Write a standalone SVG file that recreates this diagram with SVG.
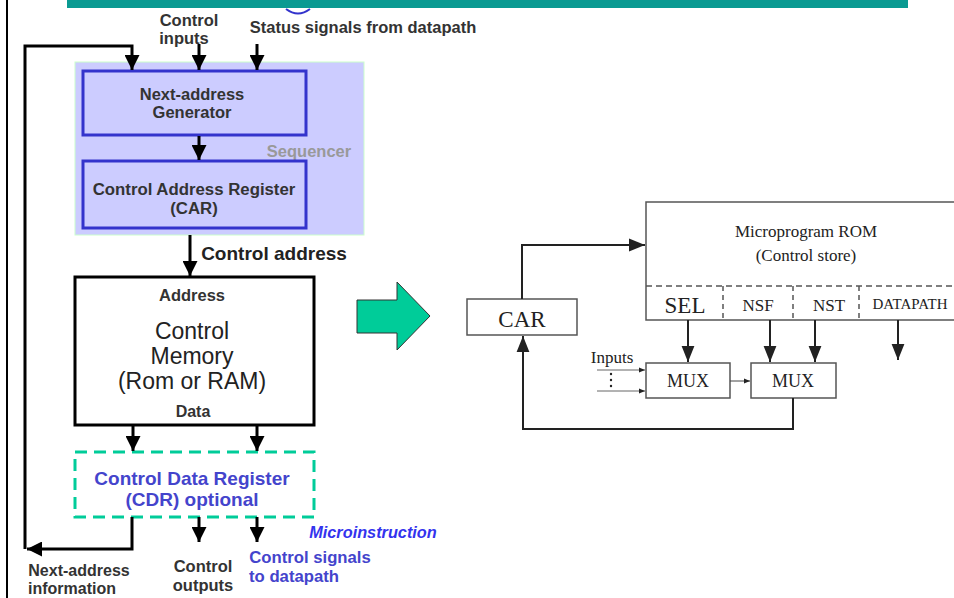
<svg xmlns="http://www.w3.org/2000/svg" width="954" height="598" viewBox="0 0 954 598">
<style>
.b{font-family:"Liberation Sans",Arial,sans-serif;font-weight:bold;fill:#333;text-anchor:middle}
.n{font-family:"Liberation Sans",Arial,sans-serif;fill:#222;text-anchor:middle;font-size:23px}
.t{font-family:"Liberation Serif","Times New Roman",serif;fill:#222;text-anchor:middle}
.w{stroke:#000;stroke-width:3;fill:none}
.r{stroke:#222;stroke-width:2;fill:none}
</style>
<defs>
<marker id="ah" viewBox="0 0 10 10" refX="10" refY="5" markerWidth="5" markerHeight="5" markerUnits="strokeWidth" orient="auto"><path d="M0,0L10,5L0,10z" fill="#000"/></marker>
<marker id="ar" viewBox="0 0 10 10" refX="10" refY="5" markerWidth="6" markerHeight="6" markerUnits="strokeWidth" orient="auto"><path d="M0,1L10,5L0,9z" fill="#222"/></marker>
<marker id="as" viewBox="0 0 10 10" refX="10" refY="5" markerWidth="10" markerHeight="8" markerUnits="strokeWidth" orient="auto"><path d="M0,1L10,5L0,9z" fill="#222"/></marker>
</defs>
<rect x="0" y="0" width="954" height="598" fill="#fff"/>
<rect x="67" y="0" width="841" height="8" fill="#0a9a92"/>
<line x1="7" y1="0" x2="7" y2="598" stroke="#000" stroke-width="2"/>
<path d="M286,9 Q298,18 310,9" stroke="#3333cc" stroke-width="2" fill="none"/>

<g id="sequencer">
<rect x="75" y="62" width="289" height="173" fill="#ccccff" stroke="#ccffcc" stroke-width="1"/>
<text class="b" x="309" y="157" font-size="16.5" style="fill:#999">Sequencer</text>
</g>
<g id="nag">
<rect x="83" y="71" width="223" height="64" fill="#ccccff" stroke="#3333cc" stroke-width="3"/>
<text class="b" x="192" y="100" font-size="16.5">Next-address</text>
<text class="b" x="192" y="118" font-size="16.5">Generator</text>
</g>
<g id="car">
<rect x="83" y="161" width="223" height="67" fill="#ccccff" stroke="#3333cc" stroke-width="3"/>
<text class="b" x="194" y="195" font-size="16.8">Control Address Register</text>
<text class="b" x="194" y="214" font-size="16.8">(CAR)</text>
</g>
<g id="cm">
<rect x="75" y="277" width="239" height="148" fill="#fff" stroke="#000" stroke-width="3"/>
<text class="b" x="192" y="301" font-size="16.5">Address</text>
<text class="n" x="192" y="339">Control</text>
<text class="n" x="192" y="364">Memory</text>
<text class="n" x="192" y="389">(Rom or RAM)</text>
<text class="b" x="193" y="417" font-size="16">Data</text>
</g>
<g id="cdr">
<rect x="75" y="452" width="239" height="65" fill="none" stroke="#00cc99" stroke-width="3" stroke-dasharray="12,7"/>
<text class="b" x="192" y="485" font-size="19" style="fill:#4444cc">Control Data Register</text>
<text class="b" x="192" y="506" font-size="19" style="fill:#4444cc">(CDR) optional</text>
</g>
<g id="labels">
<text class="b" x="189" y="26" font-size="16.5">Control</text>
<text class="b" x="184" y="44" font-size="16.5">inputs</text>
<text class="b" x="363" y="33" font-size="16.5">Status signals from datapath</text>
<text class="b" x="274" y="260" font-size="19" style="fill:#222">Control address</text>
<text class="b" x="373" y="538" font-size="16.3" font-style="italic" style="fill:#3333ee">Microinstruction</text>
<text class="b" x="310" y="563" font-size="16.7" style="fill:#4444cc">Control signals</text>
<text class="b" x="294" y="582" font-size="16.7" style="fill:#4444cc">to datapath</text>
<text class="b" x="203" y="572" font-size="16.5">Control</text>
<text class="b" x="203" y="591" font-size="16.5">outputs</text>
<text class="b" x="79" y="576" font-size="16">Next-address</text>
<text class="b" x="72" y="594" font-size="16">information</text>
</g>
<g id="left-connectors">
<path class="w" d="M132,517 L132,549 L27,549" marker-end="url(#ah)"/>
<path class="w" d="M25,549 L25,46 L132,46 L132,70" marker-end="url(#ah)"/>
<path class="w" d="M199,44 L199,70" marker-end="url(#ah)"/>
<path class="w" d="M257,44 L257,70" marker-end="url(#ah)"/>
<path class="w" d="M199,136 L199,160" marker-end="url(#ah)"/>
<path class="w" d="M190,235 L190,276" marker-end="url(#ah)"/>
<path class="w" d="M133,426 L133,451" marker-end="url(#ah)"/>
<path class="w" d="M257,426 L257,451" marker-end="url(#ah)"/>
<path class="w" d="M199,517 L199,542" marker-end="url(#ah)"/>
<path class="w" d="M257,517 L257,542" marker-end="url(#ah)"/>
</g>
<g id="big-arrow">
<path d="M357,300 L397,300 L397,282 L430,316 L397,350 L397,333 L357,333 Z" fill="#00cc99" stroke="#333" stroke-width="1"/>
</g>

<g id="rom">
<rect x="646" y="202" width="320" height="118" fill="#fff" stroke="#555" stroke-width="1.5"/>
<line x1="646" y1="286" x2="954" y2="286" stroke="#555" stroke-width="1.5" stroke-dasharray="6,4"/>
<line x1="723" y1="286" x2="723" y2="320" stroke="#555" stroke-width="1.5" stroke-dasharray="5,4"/>
<line x1="793" y1="286" x2="793" y2="320" stroke="#555" stroke-width="1.5" stroke-dasharray="5,4"/>
<line x1="859" y1="286" x2="859" y2="320" stroke="#555" stroke-width="1.5" stroke-dasharray="5,4"/>
<text class="t" x="806" y="237" font-size="17">Microprogram ROM</text>
<text class="t" x="806" y="261" font-size="17">(Control store)</text>
<text class="t" x="685" y="313" font-size="23">SEL</text>
<text class="t" x="758" y="311" font-size="17">NSF</text>
<text class="t" x="829" y="311" font-size="17">NST</text>
<text class="t" x="910" y="309" font-size="15">DATAPATH</text>
</g>
<g id="car2">
<rect x="467" y="299" width="110" height="36" fill="#fff" stroke="#555" stroke-width="1.5"/>
<text class="t" x="522" y="327" font-size="23">CAR</text>
</g>
<g id="mux1">
<rect x="646" y="363" width="84" height="35" fill="#fff" stroke="#555" stroke-width="1.5"/>
<text class="t" x="688" y="387" font-size="18">MUX</text>
</g>
<g id="mux2">
<rect x="751" y="363" width="85" height="35" fill="#fff" stroke="#555" stroke-width="1.5"/>
<text class="t" x="793" y="387" font-size="18">MUX</text>
</g>
<g id="inputs">
<text class="t" x="612" y="363" font-size="17">Inputs</text>
<circle cx="611" cy="374" r="1.2" fill="#222"/>
<circle cx="611" cy="380" r="1.2" fill="#222"/>
<circle cx="611" cy="386" r="1.2" fill="#222"/>
</g>
<g id="right-connectors">
<path class="r" d="M522,299 L522,245 L645,245" marker-end="url(#as)"/>
<path class="r" d="M688,320 L688,362" marker-end="url(#as)"/>
<path class="r" d="M770,320 L770,362" marker-end="url(#as)"/>
<path class="r" d="M815,320 L815,362" marker-end="url(#as)"/>
<path class="r" d="M898,320 L898,360" marker-end="url(#as)"/>
<path class="r" d="M793,398 L793,429 L523,429 L523,336" marker-end="url(#as)"/>
<path d="M730,381 L750,381" stroke="#444" stroke-width="1" marker-end="url(#ar)" fill="none"/>
<path d="M597,370 L645,370" stroke="#666" stroke-width="1" marker-end="url(#ar)" fill="none"/>
<path d="M597,391 L645,391" stroke="#666" stroke-width="1" marker-end="url(#ar)" fill="none"/>
</g>
</svg>
